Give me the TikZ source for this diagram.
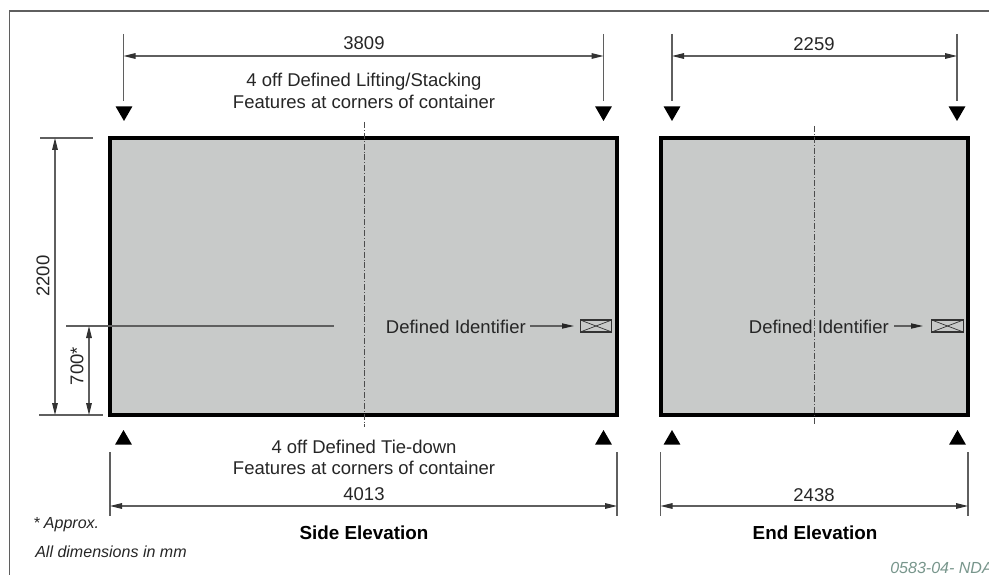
\documentclass[tikz,border=0pt]{standalone}
\usepackage{fontspec}
\setmainfont{Liberation Sans}
\usetikzlibrary{arrows.meta, shapes.geometric}
\definecolor{vista}{RGB}{200,202,201}
\definecolor{linea}{RGB}{95,95,95}
\definecolor{refcode}{RGB}{120,150,140}

\begin{document}
\begin{tikzpicture}[x=0.25mm, y=-0.25mm]

	\tikzstyle{vistabox}=[draw=black, fill=vista, line width=2.5pt, inner sep=0pt, outer sep=0pt]
	\tikzstyle{guia}=[draw=linea, line width=0.75pt]
	\tikzstyle{cota}=[draw=linea, line width=0.75pt, {Stealth[length=3mm, width=1.4mm, inset=0pt, color=black!80]}-{Stealth[length=3mm, width=1.4mm, inset=0pt, color=black!80]}]
	\tikzstyle{eje}=[draw=black!70, line width=0.5pt, dash pattern=on 1.5mm off 0.5mm on 0.2mm off 0.5mm]
	\tikzstyle{flecha}=[draw=linea, line width=0.75pt, -{Stealth[length=3mm, width=1.3mm, inset=0pt, color=black!85]}]
	\tikzstyle{marcaB}=[regular polygon, regular polygon sides=3, shape border rotate=180, fill=black, inner sep=0pt, minimum size=4.9mm]
	\tikzstyle{marcaA}=[regular polygon, regular polygon sides=3, fill=black, inner sep=0pt, minimum size=4.9mm]
	\tikzstyle{texto}=[font=\fontsize{13.15}{15}\selectfont, text=black!85, inner sep=0pt]
	\tikzstyle{titulo}=[font=\fontsize{13.4}{15}\selectfont\bfseries, inner sep=0pt]
	\tikzstyle{nota}=[font=\fontsize{11.4}{13}\selectfont\itshape, text=black!85, inner sep=0pt, anchor=west]
	\tikzstyle{placa}=[draw=black!80, fill=vista, line width=0.75pt, minimum width=7.9mm, minimum height=3mm, inner sep=0pt, outer sep=0pt]

	\useasboundingbox (0, 0) rectangle (989, 575);
	\fill[white] (0, 0) rectangle (989, 575);

	\coordinate (m_1) at (9.5, 575); % MARCO
	\coordinate (m_2) at (9.5, 11); % MARCO
	\coordinate (m_3) at (989, 11); % MARCO
	\draw[draw=linea, line width=1.4pt] (m_1) -- (m_2) -- (m_3);

	\node[vistabox, minimum width=126.75mm, minimum height=69.25mm] (side) at (363.5, 276.5) {}; % LATERAL
	\node[vistabox, minimum width=76.75mm, minimum height=69.25mm] (front) at (814.5, 276.5) {}; % FRONTAL

	\coordinate (s_a) at (364, 122); % EJE LATERAL
	\coordinate (s_b) at (364, 427); % EJE LATERAL
	\coordinate (e_a) at (814, 126); % EJE FRONTAL
	\coordinate (e_b) at (814, 424); % EJE FRONTAL
	\draw[eje] (s_a) -- (s_b);
	\draw[eje] (e_a) -- (e_b);

	\coordinate (t_1_a) at (123.5, 34); % GUIAS SUPERIORES
	\coordinate (t_1_b) at (123.5, 101); % GUIAS SUPERIORES
	\coordinate (t_2_a) at (603.5, 34); % GUIAS SUPERIORES
	\coordinate (t_2_b) at (603.5, 101); % GUIAS SUPERIORES
	\coordinate (t_3_a) at (672, 34); % GUIAS SUPERIORES
	\coordinate (t_3_b) at (672, 101); % GUIAS SUPERIORES
	\coordinate (t_4_a) at (957, 34); % GUIAS SUPERIORES
	\coordinate (t_4_b) at (957, 101); % GUIAS SUPERIORES
	\coordinate (t_1_c) at (123.5, 56); % COTAS SUPERIORES
	\coordinate (t_2_c) at (603.5, 56); % COTAS SUPERIORES
	\coordinate (t_3_c) at (672, 56); % COTAS SUPERIORES
	\coordinate (t_4_c) at (957, 56); % COTAS SUPERIORES

	\coordinate (b_1_a) at (110, 452); % GUIAS INFERIORES
	\coordinate (b_1_b) at (110, 516); % GUIAS INFERIORES
	\coordinate (b_2_a) at (617, 452); % GUIAS INFERIORES
	\coordinate (b_2_b) at (617, 516); % GUIAS INFERIORES
	\coordinate (b_3_a) at (660.5, 452); % GUIAS INFERIORES
	\coordinate (b_3_b) at (660.5, 516); % GUIAS INFERIORES
	\coordinate (b_4_a) at (968, 452); % GUIAS INFERIORES
	\coordinate (b_4_b) at (968, 516); % GUIAS INFERIORES
	\coordinate (b_1_c) at (110, 506); % COTAS INFERIORES
	\coordinate (b_2_c) at (617, 506); % COTAS INFERIORES
	\coordinate (b_3_c) at (660.5, 506); % COTAS INFERIORES
	\coordinate (b_4_c) at (968, 506); % COTAS INFERIORES

	\coordinate (l_1_a) at (40, 138); % GUIAS IZQUIERDA
	\coordinate (l_1_b) at (93, 138); % GUIAS IZQUIERDA
	\coordinate (l_2_a) at (39, 415); % GUIAS IZQUIERDA
	\coordinate (l_2_b) at (103, 415); % GUIAS IZQUIERDA
	\coordinate (l_3_a) at (66, 326); % GUIAS IZQUIERDA
	\coordinate (l_3_b) at (334, 326); % GUIAS IZQUIERDA
	\coordinate (c_1_a) at (55, 138); % COTA 2200
	\coordinate (c_1_b) at (55, 415); % COTA 2200
	\coordinate (c_2_a) at (89, 326); % COTA 700
	\coordinate (c_2_b) at (89, 415); % COTA 700

	\draw[guia] (t_1_a) -- (t_1_b);
	\draw[guia] (t_2_a) -- (t_2_b);
	\draw[guia] (t_3_a) -- (t_3_b);
	\draw[guia] (t_4_a) -- (t_4_b);
	\draw[guia] (b_1_a) -- (b_1_b);
	\draw[guia] (b_2_a) -- (b_2_b);
	\draw[guia] (b_3_a) -- (b_3_b);
	\draw[guia] (b_4_a) -- (b_4_b);
	\draw[guia] (l_1_a) -- (l_1_b);
	\draw[guia] (l_2_a) -- (l_2_b);
	\draw[guia] (l_3_a) -- (l_3_b);

	\draw[cota] (t_1_c) -- (t_2_c);
	\draw[cota] (t_3_c) -- (t_4_c);
	\draw[cota] (b_1_c) -- (b_2_c);
	\draw[cota] (b_3_c) -- (b_4_c);
	\draw[cota] (c_1_a) -- (c_1_b);
	\draw[cota] (c_2_a) -- (c_2_b);

	%%%%%%%%%%%%%%%%%%%%%%%%%%%%%%%%%
	%%%%%%% MARCAS DE ESQUINA %%%%%%%%
	\node[marcaB] (up_1) at (124, 111.2) {};
	\node[marcaB] (up_2) at (603.5, 111.2) {};
	\node[marcaB] (up_3) at (672, 111.2) {};
	\node[marcaB] (up_4) at (957, 111.2) {};
	\node[marcaA] (dn_1) at (123.5, 439.8) {};
	\node[marcaA] (dn_2) at (603.5, 439.8) {};
	\node[marcaA] (dn_3) at (672, 439.8) {};
	\node[marcaA] (dn_4) at (957.5, 439.8) {};
	%%%%%%%%%%%%%%%%%%%%%%%%%%%%%%%%%

	\node[texto] (v_3809) at (364, 43) {3809};
	\node[texto] (v_2259) at (814, 44.5) {2259};
	\node[texto] (v_4013) at (364, 494) {4013};
	\node[texto] (v_2438) at (814, 495) {2438};
	\node[texto, rotate=90] (v_2200) at (43, 276) {2200};
	\node[texto, rotate=90] (v_700) at (77, 366) {700*};

	\node[texto] (lift_1) at (364, 82) {4 off Defined Lifting/Stacking};
	\node[texto] (lift_2) at (364, 102) {Features at corners of container};
	\node[texto] (tie_1) at (364, 447) {4 off Defined Tie-down};
	\node[texto] (tie_2) at (364, 468) {Features at corners of container};

	\node[titulo] (t_side) at (364, 532.5) {Side Elevation};
	\node[titulo] (t_front) at (815, 532.5) {End Elevation};

	\node[nota] (n_1) at (33, 525) {* Approx.};
	\node[nota] (n_2) at (35, 552) {All dimensions in mm};
	\node[nota, text=refcode] (n_3) at (890, 568) {0583-04- NDA};

	%%%%%%%%%%%%%%%%%%%%%%%%%%%%%%%%%
	%%%%%%% IDENTIFICADORES %%%%%%%%
	\node[texto, anchor=east] (id_1) at (526, 327) {Defined Identifier};
	\node[texto, anchor=east] (id_2) at (889, 327) {Defined Identifier};
	\node[placa] (pl_1) at (596, 326) {};
	\node[placa] (pl_2) at (947.5, 326) {};
	\draw[draw=black!80, line width=0.5pt] (pl_1.north west) -- (pl_1.south east);
	\draw[draw=black!80, line width=0.5pt] (pl_1.south west) -- (pl_1.north east);
	\draw[draw=black!80, line width=0.5pt] (pl_2.north west) -- (pl_2.south east);
	\draw[draw=black!80, line width=0.5pt] (pl_2.south west) -- (pl_2.north east);
	\coordinate (a_1) at (530, 326);
	\coordinate (a_2) at (574, 326);
	\coordinate (a_3) at (894, 326);
	\coordinate (a_4) at (923, 326);
	\draw[flecha] (a_1) -- (a_2);
	\draw[flecha] (a_3) -- (a_4);
	%%%%%%%%%%%%%%%%%%%%%%%%%%%%%%%%%

\end{tikzpicture}
\end{document}
